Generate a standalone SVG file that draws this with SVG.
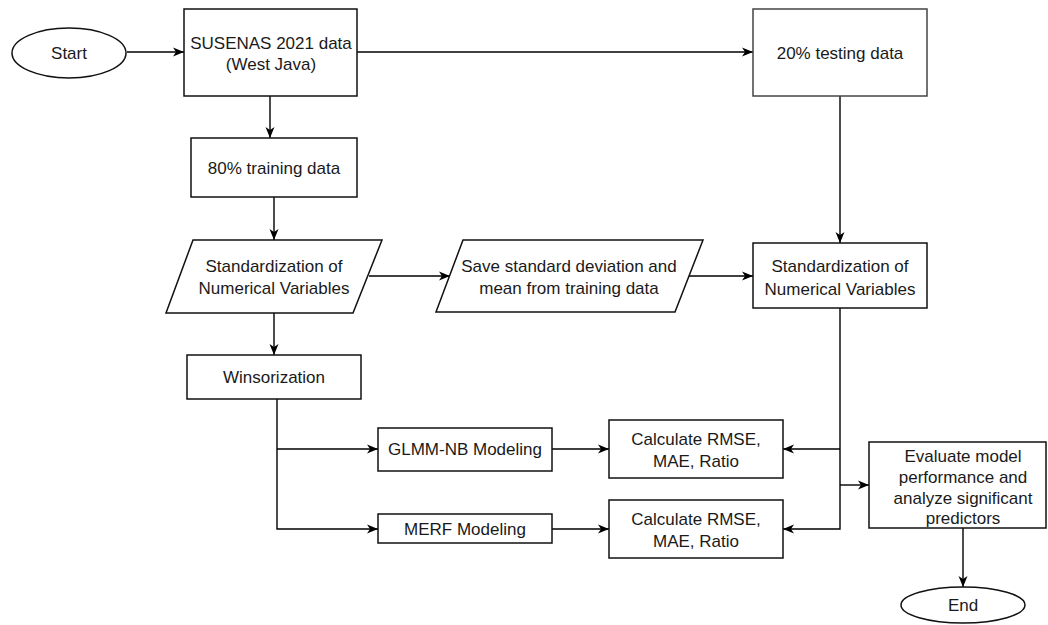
<svg xmlns="http://www.w3.org/2000/svg" width="1048" height="625" viewBox="0 0 1048 625">
<defs>
<marker id="arr" markerUnits="userSpaceOnUse" markerWidth="12" markerHeight="10" refX="11" refY="5" orient="auto">
<path d="M0,0.5 L11,5 L0,9.5 L3,5 z" fill="#000"/>
</marker>
<style>
.box{fill:#fff;stroke:#111;stroke-width:1.5}
.t{font-family:"Liberation Sans",Arial,sans-serif;font-size:17px;fill:#1a1a1a;text-anchor:middle;dominant-baseline:central}
.c{fill:none;stroke:#000;stroke-width:1.4}
</style>
</defs>
<rect width="1048" height="625" fill="#fff"/>
<g id="connectors">
<path class="c" d="M127,52 L184,52" marker-end="url(#arr)"/>
<path class="c" d="M357,52 L753,52" marker-end="url(#arr)"/>
<path class="c" d="M270,96 L270,138" marker-end="url(#arr)"/>
<path class="c" d="M274,197 L274,240" marker-end="url(#arr)"/>
<path class="c" d="M369,276 L450,276" marker-end="url(#arr)"/>
<path class="c" d="M689,276 L753,276" marker-end="url(#arr)"/>
<path class="c" d="M840,96 L840,243" marker-end="url(#arr)"/>
<path class="c" d="M274,313 L274,355" marker-end="url(#arr)"/>
<path class="c" d="M277,399 L277,529 L378,529" marker-end="url(#arr)"/>
<path class="c" d="M277,449 L378,449" marker-end="url(#arr)"/>
<path class="c" d="M552,449 L609,449" marker-end="url(#arr)"/>
<path class="c" d="M552,529 L609,529" marker-end="url(#arr)"/>
<path class="c" d="M840,308 L840,529 L783,529" marker-end="url(#arr)"/>
<path class="c" d="M840,449 L783,449" marker-end="url(#arr)"/>
<path class="c" d="M840,485 L869,485" marker-end="url(#arr)"/>
<path class="c" d="M963,528 L963,587" marker-end="url(#arr)"/>
</g>
<g id="start">
<ellipse class="box" cx="69" cy="53" rx="57" ry="25"/>
<text class="t" x="69" y="53">Start</text>
</g>
<g id="susenas">
<rect class="box" x="184" y="9" width="173" height="87"/>
<text class="t" x="271" y="43">SUSENAS 2021 data</text>
<text class="t" x="271" y="64">(West Java)</text>
</g>
<g id="testing">
<rect class="box" x="753" y="9" width="174" height="87" style="stroke:#444"/>
<text class="t" x="840" y="53">20% testing data</text>
</g>
<g id="training">
<rect class="box" x="191" y="138" width="166" height="59"/>
<text class="t" x="274" y="168">80% training data</text>
</g>
<g id="std-train">
<path class="box" d="M193,240 L382,240 L353,313 L166,313 z"/>
<text class="t" x="274" y="266">Standardization of</text>
<text class="t" x="274" y="288">Numerical Variables</text>
</g>
<g id="save">
<path class="box" d="M463,240 L703,240 L675,312 L436,312 z"/>
<text class="t" x="569" y="266">Save standard deviation and</text>
<text class="t" x="569" y="288">mean from training data</text>
</g>
<g id="std-test">
<rect class="box" x="753" y="243" width="174" height="65"/>
<text class="t" x="840" y="266">Standardization of</text>
<text class="t" x="840" y="289">Numerical Variables</text>
</g>
<g id="winsor">
<rect class="box" x="187" y="355" width="174" height="44"/>
<text class="t" x="274" y="377">Winsorization</text>
</g>
<g id="glmm">
<rect class="box" x="378" y="428" width="174" height="43"/>
<text class="t" x="465" y="449">GLMM-NB Modeling</text>
</g>
<g id="merf">
<rect class="box" x="378" y="514" width="174" height="29"/>
<text class="t" x="465" y="529">MERF Modeling</text>
</g>
<g id="calc1">
<rect class="box" x="609" y="420" width="174" height="58"/>
<text class="t" x="696" y="439">Calculate RMSE,</text>
<text class="t" x="696" y="461">MAE, Ratio</text>
</g>
<g id="calc2">
<rect class="box" x="609" y="500" width="174" height="58"/>
<text class="t" x="696" y="519">Calculate RMSE,</text>
<text class="t" x="696" y="541">MAE, Ratio</text>
</g>
<g id="evaluate">
<rect class="box" x="869" y="442" width="177" height="86"/>
<text class="t" x="963" y="456">Evaluate model</text>
<text class="t" x="963" y="477">performance and</text>
<text class="t" x="963" y="498">analyze significant</text>
<text class="t" x="963" y="518">predictors</text>
</g>
<g id="end">
<ellipse class="box" cx="963" cy="605" rx="62" ry="18"/>
<text class="t" x="963" y="605">End</text>
</g>
</svg>
